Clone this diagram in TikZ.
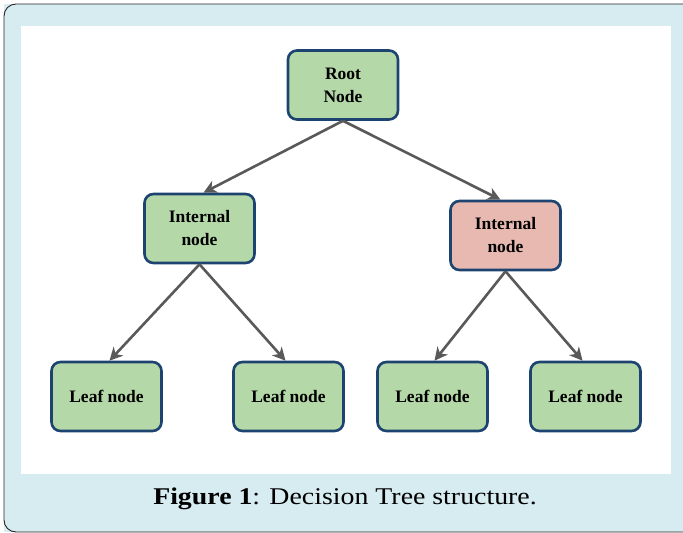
\documentclass[tikz,border=0pt]{standalone}
\usepackage{fontspec}
\setmainfont{Liberation Serif}
\usetikzlibrary{arrows.meta}
\definecolor{bgblue}{HTML}{D7ECF1}
\definecolor{nodegreen}{HTML}{B5D8A9}
\definecolor{nodepink}{HTML}{E7B9B1}
\definecolor{nodeborder}{HTML}{1D4470}
\definecolor{arrowgray}{HTML}{595959}
\tikzset{
  treebox/.style={draw=nodeborder, line width=2.6pt, rounded corners=9pt,
    minimum width=110pt, minimum height=69pt, align=center,
    font=\fontsize{17.5}{23}\selectfont\bfseries, inner sep=2pt},
  greenbox/.style={treebox, fill=nodegreen},
  pinkbox/.style={treebox, fill=nodepink},
  treearrow/.style={draw=arrowgray, line width=2.6pt,
    -{Stealth[length=13pt,width=13pt,inset=4pt]}}
}
\begin{document}
\begin{tikzpicture}[x=1pt,y=-1pt]
\useasboundingbox (0,0) rectangle (683,533);
% frame
\fill[bgblue] (4,4) rectangle (683,532);
\draw[black!85, line width=0.9pt, rounded corners=12pt] (684,4) -- (4,4) -- (4,532) -- (684,532);
\fill[white] (21,26) rectangle (671,474);
% nodes
\node[greenbox] (root) at (343,85) {Root\\Node};
\node[greenbox] (intl) at (199.5,228.5) {Internal\\node};
\node[pinkbox] (intr) at (505.5,235.5) {Internal\\node};
\node[greenbox] (leafa) at (106.5,396.5) {Leaf node};
\node[greenbox] (leafb) at (288.5,396.5) {Leaf node};
\node[greenbox] (leafc) at (432.5,396.5) {Leaf node};
\node[greenbox] (leafd) at (585.5,396.5) {Leaf node};
% connectors
\draw[treearrow] (root.south) -- ([xshift=4pt]intl.north);
\draw[treearrow] (root.south) -- ([xshift=-5pt]intr.north);
\draw[treearrow] (intl.south) -- ([xshift=3pt]leafa.north);
\draw[treearrow] (intl.south) -- ([xshift=-3pt]leafb.north);
\draw[treearrow] (intr.south) -- ([xshift=2pt]leafc.north);
\draw[treearrow] (intr.south) -- ([xshift=-3pt]leafd.north);
% caption
\node[font=\fontsize{24}{28}\selectfont, anchor=center] (caption) at (345,499)
  {\scalebox{1.16}[1]{\textbf{Figure 1}: Decision Tree structure.}};
\end{tikzpicture}
\end{document}
